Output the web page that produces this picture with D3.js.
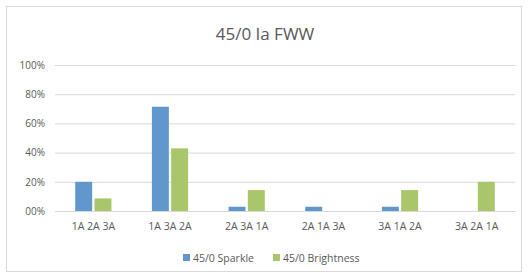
<!DOCTYPE html>
<html><head><meta charset="utf-8">
<script src="https://cdn.jsdelivr.net/npm/d3@7"></script>
<style>body{margin:0;background:#fff;} text{font-family:"Open Sans","Liberation Sans",sans-serif;}</style>
</head><body><svg id="c" width="528" height="277"></svg>
<script>
const categories = ["1A 2A 3A","1A 3A 2A","2A 3A 1A","2A 1A 3A","3A 1A 2A","3A 2A 1A"];
const sparkle = [0.20, 0.714, 0.029, 0.029, 0.029, 0];
const brightness = [0.086, 0.429, 0.143, 0, 0.143, 0.20];
const seriesNames = ["45/0 Sparkle","45/0 Brightness"];
const colors = ["#6097CC","#A9C66B"];
const yTicks = [0,0.2,0.4,0.6,0.8,1.0];
const yTickLabels = ["00%","20%","40%","60%","80%","100%"];

const svg = d3.select("#c");
svg.append("rect").attr("x",6.5).attr("y",6.5).attr("width",515).attr("height",265)
  .attr("fill","#fff").attr("stroke","#d9d9d9");

const L=55, R=515, T=65, B=211;
const x = d3.scaleBand().domain(categories).range([L,R]);
const y = d3.scaleLinear().domain([0,1]).range([B,T]);
const xs = d3.scaleBand().domain([0,1]).range([0,x.bandwidth()]).paddingInner(0.12).paddingOuter(1.05);

svg.append("text").attr("x",265).attr("y",40).attr("text-anchor","middle")
  .attr("font-size",17).attr("fill","#595959").text("45/0 Ia FWW");

const yAxis = d3.axisLeft(y).tickValues(yTicks).tickSize(-(R-L)).tickFormat((d,i)=>yTickLabels[i]);
const gy = svg.append("g").attr("transform",`translate(${L},0)`).call(yAxis);
gy.select(".domain").remove();
gy.selectAll("line").attr("stroke","#d9d9d9");
gy.selectAll("text").attr("fill","#595959").attr("font-size",10).attr("x",-10);

const data = [sparkle, brightness];
data.forEach((s,si)=>{
  svg.append("g").selectAll("rect").data(s).join("rect")
    .attr("x",(d,i)=>x(categories[i])+xs(si))
    .attr("width",xs.bandwidth())
    .attr("y",d=>y(d)).attr("height",d=>B-y(d))
    .attr("fill",colors[si]);
});

const xAxis = d3.axisBottom(x).tickSize(0);
const gx = svg.append("g").attr("transform",`translate(0,${B})`).call(xAxis);
gx.select(".domain").attr("stroke","#d9d9d9");
gx.selectAll("text").attr("fill","#595959").attr("font-size",10.5).attr("dy","1.5em");

const leg = svg.append("g");
const lx = [183, 273];
seriesNames.forEach((n,i)=>{
  leg.append("rect").attr("x",lx[i]).attr("y",254).attr("width",7).attr("height",7).attr("fill",colors[i]);
  leg.append("text").attr("x",lx[i]+10).attr("y",262).attr("font-size",10.5).attr("fill","#595959").text(n);
});
</script></body></html>
